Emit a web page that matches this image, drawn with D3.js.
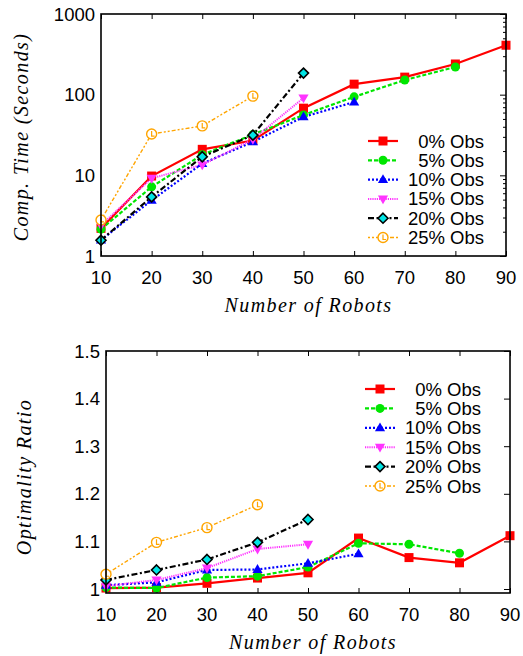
<!DOCTYPE html>
<html>
<head>
<meta charset="utf-8">
<script src="https://cdn.jsdelivr.net/npm/d3@7"></script>
<style>
  body { margin: 0; background: #fff; }
  svg { display: block; }
  .tick-lbl { font-family: "Liberation Sans", Arial, sans-serif; font-size: 18.5px; fill: #000; }
  .ax-title { font-family: "Liberation Serif", serif; font-style: italic; font-size: 20px; fill: #000; letter-spacing: 1.4px; }
  .leg-lbl { font-family: "Liberation Sans", Arial, sans-serif; font-size: 18.5px; fill: #000; }
</style>
</head>
<body>
<div class="chart"></div>
<script>
var svgWidth = 523;
var svgHeight = 656;

// data
var robots = [10, 20, 30, 40, 50, 60, 70, 80, 90];
var seriesNames = ["0% Obs", "5% Obs", "10% Obs", "15% Obs", "20% Obs", "25% Obs"];

// computation time (seconds)
var time0  = [2.2, 9.8, 21, 27, 68, 135, 165, 240, 410];
var time5  = [2.15, 7.2, 18, 32, 56, 94, 152, 220];
var time10 = [1.58, 4.9, 14, 26, 53, 81];
var time15 = [2.4, 9.2, 13.5, 28, 91];
var time20 = [1.57, 5.4, 17, 31.5, 185];
var time25 = [2.8, 32.5, 41, 96];

// optimality ratio
var ratio0  = [1.002, 1.003, 1.012, 1.023, 1.034, 1.107, 1.066, 1.055, 1.112];
var ratio5  = [1.003, 1.002, 1.024, 1.027, 1.046, 1.096, 1.094, 1.075];
var ratio10 = [1.008, 1.014, 1.040, 1.041, 1.054, 1.074];
var ratio15 = [1.006, 1.019, 1.044, 1.084, 1.094];
var ratio20 = [1.019, 1.040, 1.062, 1.098, 1.146];
var ratio25 = [1.031, 1.098, 1.129, 1.177];

var xTicks = [10, 20, 30, 40, 50, 60, 70, 80, 90];
var timeTicks = [1, 10, 100, 1000];
var ratioTicks = [1, 1.1, 1.2, 1.3, 1.4, 1.5];
var ratioTickLabels = ["1", "1.1", "1.2", "1.3", "1.4", "1.5"];

var styles = [
  { color: "#ff0000", dash: null,          width: 2.2, marker: "square" },
  { color: "#00e600", dash: "4,2",         width: 2.2, marker: "circle" },
  { color: "#0000ff", dash: "2,2",         width: 2.2, marker: "triUp" },
  { color: "#ff33ff", dash: "1.2,1",       width: 2.0, marker: "triDown" },
  { color: "#000000", dash: "6,2.5,2,2.5", width: 2.2, marker: "diamond" },
  { color: "#ffa500", dash: "2,2,2,2,4,2", width: 1.4, marker: "openCircle" }
];

var svg = d3.select(".chart").append("svg")
    .attr("width", svgWidth)
    .attr("height", svgHeight);

function drawMarker(g, kind, cx, cy, color) {
  if (kind === "square") {
    g.append("rect").attr("x", cx - 4.5).attr("y", cy - 4.5).attr("width", 9).attr("height", 9).attr("fill", color);
  } else if (kind === "circle") {
    g.append("circle").attr("cx", cx).attr("cy", cy).attr("r", 4.5).attr("fill", color);
  } else if (kind === "triUp") {
    g.append("path").attr("d", d3.symbol(d3.symbolTriangle, 45)()).attr("transform", "translate(" + cx + "," + (cy + 0.5) + ")").attr("fill", color);
  } else if (kind === "triDown") {
    g.append("path").attr("d", d3.symbol(d3.symbolTriangle, 45)()).attr("transform", "translate(" + cx + "," + (cy - 0.5) + ") rotate(180)").attr("fill", color);
  } else if (kind === "diamond") {
    g.append("path").attr("d", "M0,-5L5,0L0,5L-5,0Z").attr("transform", "translate(" + cx + "," + cy + ")")
      .attr("fill", "#00e5e5").attr("stroke", "#000").attr("stroke-width", 1.6);
  } else if (kind === "openCircle") {
    g.append("circle").attr("cx", cx).attr("cy", cy).attr("r", 5).attr("fill", "#fff").attr("stroke", color).attr("stroke-width", 1.4);
    g.append("path").attr("d", "M" + (cx) + "," + (cy - 3) + "L" + cx + "," + (cy + 2) + "L" + (cx + 3) + "," + (cy + 2))
      .attr("fill", "none").attr("stroke", color).attr("stroke-width", 1.2);
  }
}

function drawChart(cfg) {
  var g = svg.append("g");
  var x = d3.scaleLinear().domain([10, 90]).range([cfg.left, cfg.right]);
  var y = cfg.y;

  // ticks: bottom + mirrored top, y only on the right
  var xAxisB = d3.axisBottom(x).tickValues(xTicks).tickSize(-5).tickFormat("");
  g.append("g").attr("transform", "translate(0," + cfg.bottom + ")").call(xAxisB)
    .call(function(a) { a.select(".domain").remove(); a.selectAll("line").attr("stroke-width", 1); });
  var xAxisT = d3.axisTop(x).tickValues(xTicks).tickSize(-5).tickFormat("");
  g.append("g").attr("transform", "translate(0," + cfg.top + ")").call(xAxisT)
    .call(function(a) { a.select(".domain").remove(); a.selectAll("line").attr("stroke-width", 1); });

  var yAxisR = d3.axisRight(y).tickValues(cfg.yTicks).tickSize(-6).tickFormat("");
  g.append("g").attr("transform", "translate(" + cfg.right + ",0)").call(yAxisR)
    .call(function(a) { a.select(".domain").remove(); a.selectAll("line").attr("stroke-width", 1); });
  if (cfg.minor) {
    var yAxisM = d3.axisRight(y).tickValues(cfg.minor).tickSize(-3).tickFormat("");
    g.append("g").attr("transform", "translate(" + cfg.right + ",0)").call(yAxisM)
      .call(function(a) { a.select(".domain").remove(); a.selectAll("line").attr("stroke-width", 1); });
  }

  // tick labels
  g.selectAll(".xl").data(xTicks).enter().append("text")
    .attr("class", "tick-lbl")
    .attr("x", function(d) { return x(d); })
    .attr("y", cfg.bottom + 28)
    .attr("text-anchor", "middle")
    .text(function(d) { return d; });
  g.selectAll(".yl").data(cfg.yTicks).enter().append("text")
    .attr("class", "tick-lbl")
    .attr("x", cfg.left - 6)
    .attr("y", function(d) { return y(d) + 6.5; })
    .attr("text-anchor", "end")
    .text(function(d, i) { return cfg.yLabels[i]; });

  // series
  var line = d3.line().x(function(d) { return x(d[0]); }).y(function(d) { return y(d[1]); });
  cfg.series.forEach(function(vals, i) {
    var st = styles[i];
    var pts = vals.map(function(v, j) { return [robots[j], v]; });
    g.append("path").datum(pts).attr("d", line)
      .attr("fill", "none").attr("stroke", st.color).attr("stroke-width", st.width)
      .attr("stroke-dasharray", st.dash);
  });
  cfg.series.forEach(function(vals, i) {
    var st = styles[i];
    vals.forEach(function(v, j) { drawMarker(g, st.marker, x(robots[j]), y(v), st.color); });
  });

  // frame
  g.append("rect").attr("x", cfg.left).attr("y", cfg.top)
    .attr("width", cfg.right - cfg.left).attr("height", cfg.bottom - cfg.top)
    .attr("fill", "none").attr("stroke", "#000").attr("stroke-width", 1.6);

  // legend
  seriesNames.forEach(function(name, i) {
    var st = styles[i];
    var ly = cfg.legY + i * cfg.legStep;
    g.append("line").attr("x1", cfg.legX).attr("x2", cfg.legX + 30).attr("y1", ly).attr("y2", ly)
      .attr("stroke", st.color).attr("stroke-width", st.width).attr("stroke-dasharray", st.dash);
    drawMarker(g, st.marker, cfg.legX + 15, ly, st.color);
    g.append("text").attr("class", "leg-lbl")
      .attr("x", cfg.legTextX).attr("y", ly + 6.5)
      .attr("text-anchor", "end").text(name);
  });

  // axis titles
  g.append("text").attr("class", "ax-title")
    .attr("x", (cfg.left + cfg.right) / 2 + 5).attr("y", cfg.bottom + 56)
    .attr("text-anchor", "middle").text("Number of Robots");
  g.append("text").attr("class", "ax-title")
    .attr("transform", "translate(" + cfg.yTitleX + "," + cfg.yTitleY + ") rotate(-90)")
    .attr("text-anchor", "middle").text(cfg.yTitle);
}

var minorLog = [];
[1, 10, 100].forEach(function(dec) {
  for (var k = 2; k <= 9; k++) minorLog.push(dec * k);
});

drawChart({
  left: 101, right: 506, top: 14, bottom: 256,
  y: d3.scaleLog().domain([1, 1000]).range([256, 14]),
  yTicks: timeTicks, yLabels: ["1", "10", "100", "1000"], minor: minorLog,
  series: [time0, time5, time10, time15, time20, time25],
  legX: 368, legTextX: 484, legY: 141, legStep: 19.3,
  yTitle: "Comp. Time (Seconds)", yTitleX: 28, yTitleY: 137
});

drawChart({
  left: 106, right: 510, top: 351, bottom: 593,
  y: d3.scaleLinear().domain([0.9916, 1.5]).range([593, 351]),
  yTicks: ratioTicks, yLabels: ratioTickLabels, minor: null,
  series: [ratio0, ratio5, ratio10, ratio15, ratio20, ratio25],
  legX: 365, legTextX: 481, legY: 389, legStep: 19.4,
  yTitle: "Optimality Ratio", yTitleX: 31, yTitleY: 477
});
</script>
</body>
</html>
